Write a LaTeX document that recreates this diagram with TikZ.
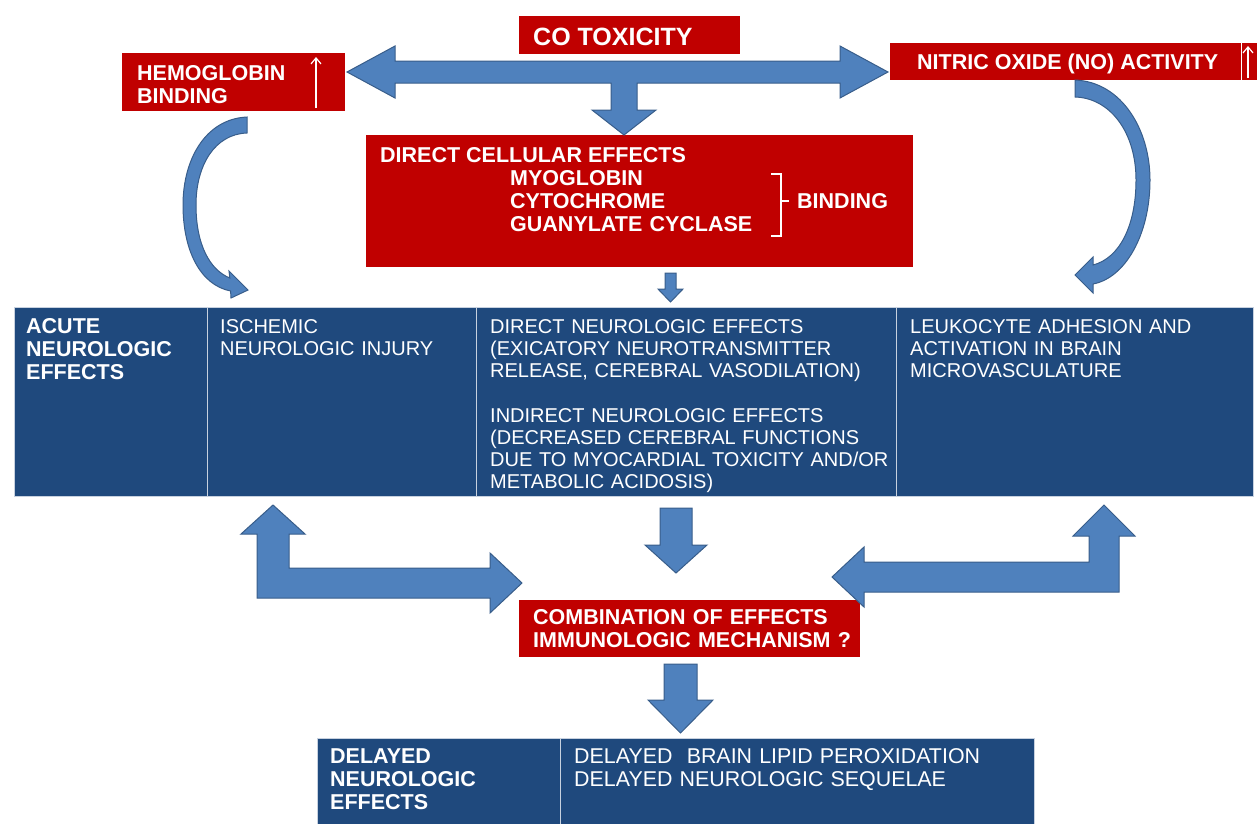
\documentclass[tikz,border=0pt]{standalone}
\usepackage{fontspec}
\setmainfont{Liberation Sans}
\usetikzlibrary{arrows.meta}
\definecolor{cored}{HTML}{C00000}
\definecolor{tblue}{HTML}{1F497D}
\definecolor{ablue}{HTML}{4F81BD}
\definecolor{aedge}{HTML}{385D8A}
\begin{document}
\begin{tikzpicture}[x=1pt,y=-1pt,
  redbox/.style={fill=cored, draw=none, inner sep=0, anchor=north west},
  cell/.style={fill=tblue, draw=white!75!tblue, line width=0.8pt, inner sep=0, anchor=north west},
  rtxt/.style={text=white, font=\fontsize{21.5}{23}\selectfont\bfseries, anchor=base west, inner sep=0, align=left},
  ttxt/.style={text=white, font=\fontsize{20}{22.3}\selectfont, anchor=base west, inner sep=0, align=left},
  tbold/.style={ttxt, font=\fontsize{21.5}{23}\selectfont\bfseries},
  barrow/.style={fill=ablue, draw=aedge, line width=1pt, line join=miter},
  uparr/.style={white, line width=1.2pt, -{Straight Barb[length=6pt,width=10pt]}}
]
\useasboundingbox (0,0) rectangle (1257,823);

% red boxes
\node[redbox, minimum width=221pt, minimum height=38pt] (co) at (519,16) {};
\node[redbox, minimum width=223pt, minimum height=58pt] (hb) at (122,53) {};
\node[redbox, minimum width=351pt, minimum height=37pt] (no) at (890,43) {};
\node[redbox, minimum width=16pt, minimum height=37pt] (noup) at (1242,43) {};
\node[redbox, minimum width=547pt, minimum height=132pt] (dce) at (366,135) {};
\node[redbox, minimum width=341pt, minimum height=57pt] (comb) at (519,600) {};

% tables
\node[cell, minimum width=193pt, minimum height=189pt] (a1) at (14,307) {};
\node[cell, minimum width=269pt, minimum height=189pt] (a2) at (207,307) {};
\node[cell, minimum width=420pt, minimum height=189pt] (a3) at (476,307) {};
\node[cell, minimum width=357pt, minimum height=189pt] (a4) at (896,307) {};
\node[cell, minimum width=243pt, minimum height=90pt] (d1) at (317,738) {};
\node[cell, minimum width=474pt, minimum height=90pt] (d2) at (560,738) {};

% red box texts
\node[rtxt, font=\fontsize{25}{28}\selectfont\bfseries] (cot) at (533,45) {CO TOXICITY};
\node[rtxt, text width=170pt] (hbt) at (137,80) {HEMOGLOBIN\\BINDING};
\draw[uparr] (316,108) -- (316,57);
\node[rtxt] (not) at (917,69) {NITRIC OXIDE (NO) ACTIVITY};
\draw[uparr] (1248,78) -- (1248,46);
\node[rtxt] (dcet) at (380,162) {DIRECT CELLULAR EFFECTS};
\node[rtxt, text width=260pt] (items) at (510,185) {MYOGLOBIN\\CYTOCHROME\\GUANYLATE CYCLASE};
\node[rtxt] (bind) at (797,208) {BINDING};
\draw[white, line width=1.2pt] (771,174) -| (781,236) -- (771,236);
\draw[white, line width=1.2pt] (781,201) -- (789,201);
\node[rtxt, text width=330pt] (combt) at (533,624) {COMBINATION OF EFFECTS\\IMMUNOLOGIC MECHANISM ?};

% table texts
\node[tbold, text width=180pt] (a1t) at (26,333) {ACUTE\\NEUROLOGIC\\EFFECTS};
\node[ttxt, text width=260pt] (a2t) at (220,333) {ISCHEMIC\\NEUROLOGIC INJURY};
\node[ttxt, text width=420pt] (a3t) at (490,333) {DIRECT NEUROLOGIC EFFECTS\\(EXICATORY NEUROTRANSMITTER\\RELEASE, CEREBRAL VASODILATION)};
\node[ttxt, text width=420pt] (a3u) at (490,422) {INDIRECT NEUROLOGIC EFFECTS\\(DECREASED CEREBRAL FUNCTIONS\\DUE TO MYOCARDIAL TOXICITY AND/OR\\METABOLIC ACIDOSIS)};
\node[ttxt, text width=340pt] (a4t) at (910,333) {LEUKOCYTE ADHESION AND\\ACTIVATION IN BRAIN\\MICROVASCULATURE};
\node[tbold, text width=230pt] (d1t) at (330,763) {DELAYED\\NEUROLOGIC\\EFFECTS};
\node[ttxt, font=\fontsize{21.4}{23}\selectfont, text width=460pt] (d2t) at (574,763) {DELAYED\ \ BRAIN LIPID PEROXIDATION\\DELAYED NEUROLOGIC SEQUELAE};

% top T arrow
\draw[barrow] (347,72) -- (395,46) -- (395,61) -- (840,61) -- (840,46) -- (888,72) -- (840,98) -- (840,83)
  -- (637,83) -- (637,110) -- (656,110) -- (624,135) -- (592,110) -- (611,110) -- (611,83)
  -- (395,83) -- (395,98) -- cycle;

% small arrow below DCE
\draw[barrow] (665,273) -- (676,273) -- (676,289) -- (683,289) -- (670.5,302) -- (658,289) -- (665,289) -- cycle;

% curved arrows
\draw[barrow] (247,117) .. controls (205,119) and (183,160) .. (183,205)
  .. controls (183,250) and (200,285) .. (230.6,291)
  -- (231,298) -- (248,290) -- (229,271) -- (229.8,278)
  .. controls (210,270) and (196,245) .. (196,205)
  .. controls (196,165) and (215,134) .. (247,133) -- cycle;
\draw[barrow] (1075,80) .. controls (1122,82) and (1150,130) .. (1150,180)
  .. controls (1150,235) and (1125,278) .. (1093,284)
  -- (1093,293) -- (1075,275) -- (1093,257) -- (1093,265)
  .. controls (1120,258) and (1136,225) .. (1136,180)
  .. controls (1136,132) and (1110,98) .. (1075,97) -- cycle;

% lower bent arrows
\draw[barrow] (273,505) -- (305,534) -- (289,534) -- (289,568) -- (490,568) -- (490,553) -- (522,583)
  -- (490,613) -- (490,598) -- (257,598) -- (257,534) -- (241,534) -- cycle;
\draw[barrow] (1104,505) -- (1135,536) -- (1119,536) -- (1119,592) -- (864,592) -- (864,607) -- (832,577)
  -- (864,547) -- (864,562) -- (1089,562) -- (1089,536) -- (1073,536) -- cycle;

% middle down arrows
\draw[barrow] (660,508) -- (692,508) -- (692,545) -- (707,545) -- (676,573) -- (645,545) -- (660,545) -- cycle;
\draw[barrow] (664,664) -- (697,664) -- (697,700) -- (713,700) -- (680.5,733) -- (648,700) -- (664,700) -- cycle;
\end{tikzpicture}
\end{document}
